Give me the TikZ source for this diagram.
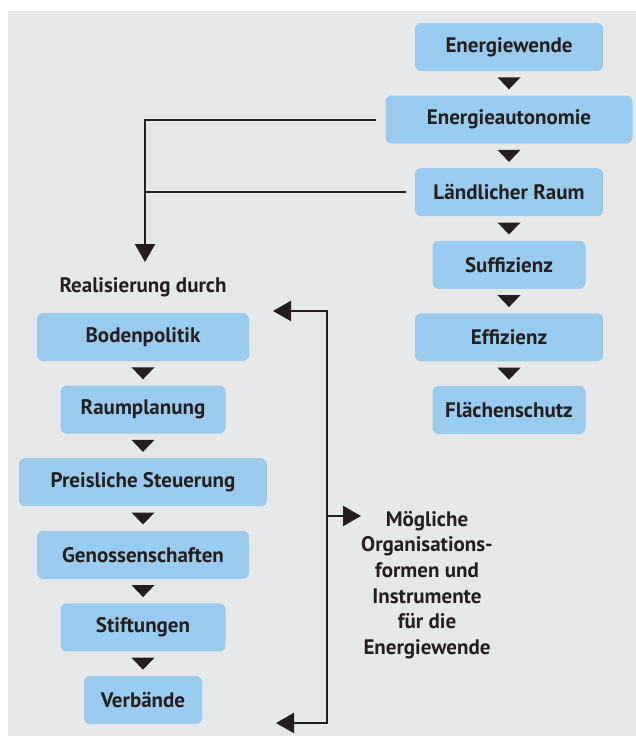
\documentclass[tikz,border=0pt]{standalone}
\usepackage{fontspec}
\setmainfont{PT Sans}
\usepackage{tikz}
\usetikzlibrary{arrows.meta,calc}
\definecolor{boxblue}{RGB}{152,203,238}
\definecolor{bggray}{RGB}{230,231,233}
\definecolor{ink}{RGB}{35,31,32}

\begin{document}
\begin{tikzpicture}[x=1pt, y=1pt, font=\fontsize{21}{25.6}\selectfont\bfseries,
  >={Triangle[width=20pt,length=18pt]},
  box/.style={fill=boxblue, rounded corners=6pt, minimum height=48pt, inner sep=0pt, text=ink},
  line/.style={draw=ink, line width=2pt}]
  \useasboundingbox (0,0) rectangle (636,-736);
  \fill[bggray] (8,-11) rectangle (636,-736);
  % right column
  \foreach \n/\lab/\w [count=\i] in {ew/Energiewende/188, ea/Energieautonomie/247, lr/{Ländlicher Raum}/188, su/Suffizienz/153, ef/Effizienz/188, fl/Flächenschutz/153}
    \node[box, minimum width=\w pt] (\n) at (509,{-47-72.6*(\i-1)}) {\lab};
  % left column
  \foreach \n/\lab/\w [count=\i] in {bo/Bodenpolitik/212, ra/Raumplanung/165, pr/{Preisliche Steuerung}/248, ge/Genossenschaften/212, st/Stiftungen/165, ve/Verbände/118}
    \node[box, minimum width=\w pt] (\n) at (143,{-337-72.6*(\i-1)}) {\lab};
  \node[text=ink] (rd) at (143,-287) {Realisierung durch};
  % triangles between the boxes
  \foreach \p/\q in {ew/ea, ea/lr, lr/su, su/ef, ef/fl, bo/ra, ra/pr, pr/ge, ge/st, st/ve}
    \fill[ink] ($(\p.south)!.5!(\q.north)$) +(-11.5,6) -- +(11.5,6) -- +(0,-6) -- cycle;
  % feed to the left column
  \coordinate (drop) at (145,-262);
  \draw[line,->] ([xshift=-9pt]ea.west) -| (drop);
  \draw[line] ([xshift=-9pt]lr.west) -- (lr.west -| drop);
  % bracket
  \coordinate (ttip) at (273,-311);
  \coordinate (btop) at (327,-311);
  \coordinate (bbot) at (327,-723);
  \coordinate (btip) at (276,-723);
  \coordinate (bmid) at (327,-516);
  \draw[line,<->] (ttip) -- (btop) -- (bbot) -- (btip);
  \node[anchor=north, inner sep=0pt, align=center, text=ink] (mo) at (427,-511)
    {Mögliche\\Organisations-\\formen und\\Instrumente\\für die\\Energiewende};
  \draw[line,->] (bmid) -- (bmid -| mo.west);
\end{tikzpicture}
\end{document}
